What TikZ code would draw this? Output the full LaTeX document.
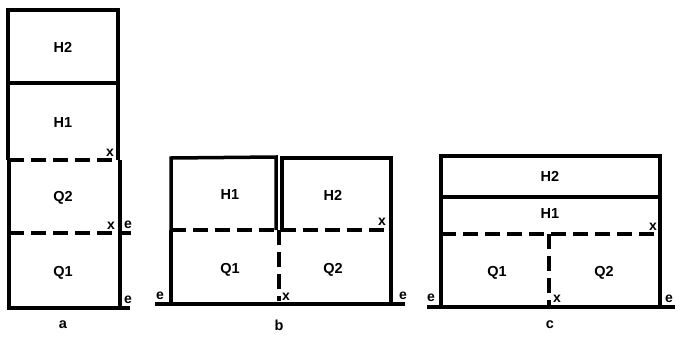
\documentclass[tikz,border=0pt]{standalone}
\usepackage{fontspec}
\setmainfont{Liberation Sans}
\usetikzlibrary{positioning}

\tikzset{
    wall/.style={line width=3.5pt},
    split/.style={line width=3.5pt, dash pattern=on 15pt off 7pt},
    room/.style={font=\fontsize{14.5}{16}\selectfont\bfseries},
    tag/.style={font=\fontsize{14}{16}\selectfont\bfseries, inner sep=0pt},
}

\begin{document}
\begin{tikzpicture}[x=1pt, y=-1pt]
    \useasboundingbox (0,0) rectangle (683,338);

    % Panel a
    \draw[wall] (8,160) -- (8,10) -- (118,10) -- (118,160);
    \draw[wall] (8,83) -- (118,83);
    \draw[wall] (9,160) -- (9,308) -- (130,308);
    \draw[wall] (120,160) -- (120,308);
    \draw[split] (9,160) -- (118,160);
    \draw[split] (9,233) -- (120,233);
    \draw[wall] (120,233) -- (131,233);
    \node[room] (aH2) at (63,47) {H2};
    \node[room] (aH1) at (63,123) {H1};
    \node[room] (aQ2) at (63,198) {Q2};
    \node[room] (aQ1) at (63,273) {Q1};
    \node[tag] (ax1) at (110,153) {x};
    \node[tag] (ax2) at (111,226) {x};
    \node[tag] (ae1) at (128,225) {e};
    \node[tag] (ae2) at (128,300) {e};
    \node[room] (la) at (63,325) {a};

    % Panel b
    \draw[wall] (171,230) -- (171,158) -- (276,157) -- (276,230);
    \draw[wall] (282,230) -- (282,158) -- (391,158) -- (391,304);
    \draw[wall] (155,304) -- (405,304);
    \draw[wall] (171,230) -- (171,304);
    \draw[split] (171,230) -- (391,230);
    \draw[split] (279,230) -- (279,301);
    \node[room] (bH1) at (230,195) {H1};
    \node[room] (bH2) at (333,195) {H2};
    \node[room] (bQ1) at (230,270) {Q1};
    \node[room] (bQ2) at (333,270) {Q2};
    \node[tag] (bx1) at (382,222) {x};
    \node[tag] (bx2) at (286,297) {x};
    \node[tag] (be1) at (160,296) {e};
    \node[tag] (be2) at (403,296) {e};
    \node[room] (lb) at (279,325) {b};

    % Panel c
    \draw[wall] (441,234) -- (441,156) -- (660,156) -- (660,234);
    \draw[wall] (441,197) -- (660,197);
    \draw[wall] (441,234) -- (441,307);
    \draw[wall] (660,234) -- (660,307);
    \draw[wall] (427,307) -- (675,307);
    \draw[split] (441,234) -- (660,234);
    \draw[split] (549,234) -- (549,305);
    \node[room] (cH2) at (550,176) {H2};
    \node[room] (cH1) at (550,214) {H1};
    \node[room] (cQ1) at (497,273) {Q1};
    \node[room] (cQ2) at (604,273) {Q2};
    \node[tag] (cx1) at (653,227) {x};
    \node[tag] (cx2) at (557,299) {x};
    \node[tag] (ce1) at (431,298) {e};
    \node[tag] (ce2) at (669,299) {e};
    \node[room] (lc) at (550,325) {c};
\end{tikzpicture}
\end{document}
